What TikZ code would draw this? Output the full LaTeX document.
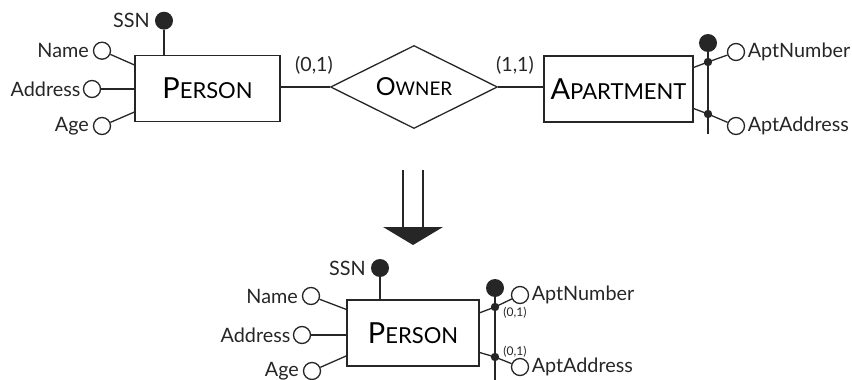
\documentclass[tikz,border=0pt]{standalone}
\usepackage{fontspec}
\setmainfont{Lato}
\usetikzlibrary{shapes.geometric, positioning, calc}
\definecolor{ink}{HTML}{262626}
\newcommand{\entname}[2]{{\fontsize{14.5pt}{15pt}\selectfont #1}{\fontsize{11pt}{12pt}\selectfont #2}}
\newcommand{\relname}[2]{{\fontsize{12.4pt}{13pt}\selectfont #1}{\fontsize{9.4pt}{10pt}\selectfont #2}}
\tikzset{
  entity/.style={
    rectangle, draw=ink, line width=0.65pt, fill=white,
    minimum width=#1, minimum height=33pt, inner sep=0pt
  },
  relation/.style={
    diamond, aspect=2, draw=ink, line width=0.65pt, fill=white,
    minimum width=83.5pt, minimum height=41.5pt, inner sep=0pt
  },
  attr/.style={circle, draw=ink, line width=0.65pt, fill=white, minimum size=8.5pt, inner sep=0pt},
  keyattr/.style={circle, fill=ink, minimum size=9pt, inner sep=0pt},
  joint/.style={circle, fill=ink, minimum size=4.2pt, inner sep=0pt},
  lbl/.style={font=\fontsize{9.9pt}{12pt}\selectfont, text=ink, inner sep=0.6pt},
  card/.style={font=\fontsize{9.8pt}{11pt}\selectfont, text=ink, inner sep=0pt},
  smallcard/.style={font=\fontsize{6pt}{7pt}\selectfont, text=ink, inner sep=0pt},
  link/.style={draw=ink, line width=0.65pt}
}
\begin{document}
\begin{tikzpicture}[x=0.5pt, y=-0.5pt]
\useasboundingbox (0,0) rectangle (852,380);

% --- schema before the restructuring
\node[entity=72.5pt] (person) at (207.5,88.5) {\entname{P}{ERSON}};
\node[relation] (owner) at (414,87) {\relname{O}{WNER}};
\node[entity=74.5pt] (apartment) at (618.5,89) {\entname{A}{PARTMENT}};

\node[keyattr] (ssn) at (164,20.7) {};
\node[attr] (name) at (102,50.7) {};
\node[attr] (address) at (92,89) {};
\node[attr] (age) at (102,126) {};
\node[lbl, left=1.6pt of ssn] (ssnlbl) {SSN};
\node[lbl, left=1.2pt of name] (namelbl) {Name};
\node[lbl, left=0.4pt of address] (addresslbl) {Address};
\node[lbl, left=1.2pt of age] (agelbl) {Age};

\node[keyattr] (akey) at (708,43) {};
\node[joint] (adot1) at (708,62) {};
\node[joint] (adot2) at (708,114) {};
\coordinate (aend) at (708,134);
\node[attr] (aptnum) at (736,52) {};
\node[attr] (aptaddr) at (736,126) {};
\node[lbl, right=0.5pt of aptnum] (aptnumlbl) {AptNumber};
\node[lbl, right=0.5pt of aptaddr] (aptaddrlbl) {AptAddress};

\node[card] (card1) at (314,65) {(0,1)};
\node[card] (card2) at (515,65) {(1,1)};

\draw[link] (ssn) -- (person.north -| ssn);
\draw[link] (name) -- ($(person.north west)!0.15!(person.south west)$);
\draw[link] (address) -- (person.west |- address);
\draw[link] (age) -- ($(person.north west)!0.85!(person.south west)$);
\draw[link] (person.east |- owner) -- (owner.west);
\draw[link] (owner.east) -- (apartment.west |- owner);
\draw[link] (akey) -- (aend);
\draw[link] ($(apartment.north east)!0.18!(apartment.south east)$) -- (adot1.center) -- (aptnum);
\draw[link] ($(apartment.north east)!0.79!(apartment.south east)$) -- (adot2.center) -- (aptaddr);

% --- transformation arrow
\coordinate (shaftl) at (403,170);
\coordinate (shaftr) at (423,170);
\coordinate (headl) at (383,227);
\coordinate (headr) at (443,227);
\coordinate (tip) at (413,245);
\draw[link] (shaftl) -- (shaftl |- headl);
\draw[link] (shaftr) -- (shaftr |- headr);
\fill[ink] (headl) -- (headr) -- (tip) -- cycle;

% --- schema after the restructuring
\node[entity=66pt] (person2) at (413,333) {\entname{P}{ERSON}};

\node[keyattr] (ssn2) at (380,268) {};
\node[attr] (name2) at (311,296) {};
\node[attr] (address2) at (302,335) {};
\node[attr] (age2) at (312,371) {};
\node[lbl, left=1.6pt of ssn2] (ssn2lbl) {SSN};
\node[lbl, left=1.2pt of name2] (name2lbl) {Name};
\node[lbl, left=0.4pt of address2] (address2lbl) {Address};
\node[lbl, left=1.2pt of age2] (age2lbl) {Age};

\node[keyattr] (pkey) at (495,288) {};
\node[joint] (pdot1) at (495,307) {};
\node[joint] (pdot2) at (495,357) {};
\coordinate (pend) at (495,380);
\node[attr] (aptnum2) at (520,295) {};
\node[attr] (aptaddr2) at (520,367) {};
\node[lbl, right=0.5pt of aptnum2] (aptnum2lbl) {AptNumber};
\node[lbl, right=0.5pt of aptaddr2] (aptaddr2lbl) {AptAddress};
\node[smallcard] (card3) at (515,313) {(0,1)};
\node[smallcard] (card4) at (515,352) {(0,1)};

\draw[link] (ssn2) -- (person2.north -| ssn2);
\draw[link] (name2) -- ($(person2.north west)!0.15!(person2.south west)$);
\draw[link] (address2) -- (person2.west |- address2);
\draw[link] (age2) -- ($(person2.north west)!0.84!(person2.south west)$);
\draw[link] (pkey) -- (pend);
\draw[link] ($(person2.north east)!0.2!(person2.south east)$) -- (pdot1.center) -- (aptnum2);
\draw[link] ($(person2.north east)!0.79!(person2.south east)$) -- (pdot2.center) -- (aptaddr2);

\end{tikzpicture}
\end{document}
